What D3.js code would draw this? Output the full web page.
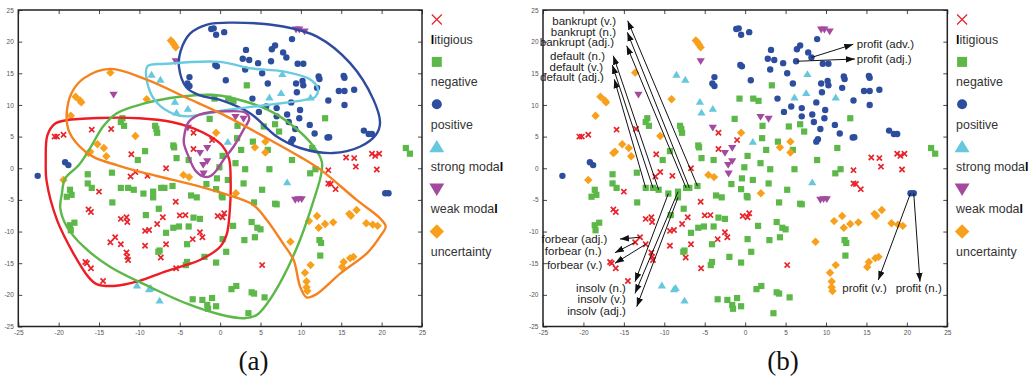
<!DOCTYPE html>
<html>
<head>
<meta charset="utf-8">
<script src="https://cdn.jsdelivr.net/npm/d3@7"></script>
<style>
  body { margin: 0; background: #fff; }
  svg { display: block; font-family: "Liberation Sans", Arial, sans-serif; }
</style>
</head>
<body>
<svg id="chart" width="1035" height="377"></svg>
<script>
// categories and their points (t-SNE style coordinates)
const categories = ['litigious', 'negative', 'positive', 'strong modal', 'weak modal', 'uncertainty'];

const litigious = [
  [-20.5,5.0],[-20.2,5.0],[-19.4,5.3],[-15.9,6.1],[-13.5,6.2],[-11.0,2.2],[-3.3,5.6],[-3.3,3.05],[-1.0,4.45],
  [-6.7,0.0],[15.6,1.7],[16.6,1.6],[18.8,2.3],[19.2,1.95],[19.7,2.3],[16.8,0.25],[13.4,-0.3],[19.4,-0.2],
  [13.4,-2.4],[13.7,-2.5],[14.3,-3.3],[-15.0,-3.7],[-16.3,-6.5],[-16.0,-6.9],[-10.5,-0.6],[-11.1,-1.3],[-9.0,-1.2],
  [-12.3,-8.0],[-11.6,-7.75],[-11.5,-8.5],[-7.8,-8.8],[-7.1,-7.75],[-5.0,-7.45],[-4.3,-7.4],[-5.5,-5.3],[-9.3,-9.9],
  [-8.8,-9.75],[-13.0,-10.9],[-13.6,-11.7],[-12.3,-12.0],[-9.3,-12.25],[-6.7,-12.0],[-3.4,-11.2],[-2.5,-10.1],
  [-2.2,-10.9],[-0.3,-7.55],[0.3,-7.75],[0.5,-7.1],[-11.6,-13.3],[-11.5,-14.0],[-11.4,-14.5],[-7.35,-14.1],
  [-5.45,-15.8],[-16.7,-14.8],[-16.5,-15.0],[-16.0,-15.8],[-14.5,-17.8],[5.2,-15.3]
];

const negative = [
  [-0.7,11.0],[-1.3,7.8],[-12.1,7.9],[-12.3,7.3],[-11.9,6.7],[-8.05,6.7],[-7.9,6.2],[-7.8,5.6],[-5.8,3.6],[-5.7,3.3],
  [-9.3,2.7],[-10.2,1.3],[-5.4,1.6],[-3.9,1.3],[3.3,13.1],[1.0,11.0],[1.65,10.65],[13.0,7.9],[5.4,6.6],[6.8,6.95],
  [7.3,5.8],[2.15,6.7],[2.1,4.75],[4.05,4.2],[2.6,2.9],[5.9,2.9],[0.3,1.95],[1.9,0.8],[8.9,1.3],[11.4,3.2],
  [23.0,3.2],[23.5,2.3],[-16.4,-0.95],[-16.4,-2.4],[-15.9,-3.1],[-13.4,-0.7],[-12.3,-3.1],[-11.4,-3.1],[-10.7,-3.4],
  [-9.5,-4.0],[-8.3,-3.7],[-8.3,-4.6],[-7.3,-3.1],[-6.9,-3.1],[-5.9,-2.8],[-1.7,-2.5],[-0.4,-1.6],[-18.6,-3.4],
  [-18.4,-4.2],[-19.0,-4.5],[-13.35,-5.4],[-7.6,-6.4],[-9.2,-7.4],[-3.6,-4.3],[-2.9,-4.6],[-18.6,-9.0],[-18.5,-9.8],
  [-18.05,-8.6],[-5.8,-9.4],[-5.1,-9.2],[-3.9,-9.2],[-3.3,-7.8],[-2.5,-8.0],[-6.7,-10.2],[-4.1,-12.0],[-7.65,-13.2],
  [-7.5,-13.0],[-1.95,-14.0],[-4.1,-14.8],[-4.25,-15.3],[-0.5,-14.9],[-3.4,-20.7],[-2.2,-20.8],[-1.0,-20.5],
  [-1.6,-21.6],[-1.5,-22.2],[-0.5,-21.8],[3.1,-0.15],[6.1,-0.15],[-0.1,0.15],[0.95,-1.85],[2.9,-2.4],[5.2,-3.4],
  [-0.5,-3.3],[0.2,-4.4],[0.3,-4.6],[4.2,-5.4],[7.0,-5.7],[6.8,-5.6],[11.15,-0.8],[11.8,-0.15],[3.9,-8.5],[4.6,-9.4],
  [5.0,-9.65],[1.6,-9.1],[0.3,-11.2],[3.0,-11.35],[4.3,-10.9],[0.75,-13.2],[12.3,-11.35],[12.5,-11.8],[12.4,-13.8],
  [1.4,-19.1],[2.0,-18.6],[3.9,-19.6],[4.2,-19.8],[5.5,-20.4],[3.5,-22.9]
];

const positive = [
  [-1.1,22.0],[-0.8,22.1],[-0.5,21.1],[0.5,21.5],[8.9,20.4],[3.2,18.7],[6.4,18.8],[6.8,19.4],[7.8,18.3],[8.2,17.5],
  [2.8,17.3],[3.6,17.1],[4.7,16.6],[6.3,16.9],[9.6,16.5],[10.3,16.5],[-0.6,16.3],[-0.4,16.1],[3.1,15.6],[5.2,15.0],
  [0.7,13.9],[5.9,13.4],[9.4,13.4],[10.2,13.8],[10.3,13.1],[12.2,14.5],[12.3,14.1],[12.0,12.7],[9.5,12.0],[15.3,14.6],
  [15.4,14.3],[14.7,12.2],[15.4,12.2],[16.6,12.4],[13.4,10.7],[15.4,10.0],[4.0,11.0],[8.8,10.4],[5.7,9.75],[7.0,9.5],
  [9.9,9.2],[4.8,8.9],[8.3,8.5],[7.0,8.2],[9.8,7.9],[8.5,7.3],[11.1,6.85],[9.3,6.2],[11.7,5.5],[13.3,4.85],[13.5,4.9],
  [9.0,4.6],[8.8,4.2],[17.8,5.95],[18.4,5.4],[18.8,5.4],[-3.8,14.4],[-4.05,13.4],[-3.8,13.0],[-19.2,0.95],[-18.8,0.5],
  [-22.6,-1.2],[20.45,-3.95],[20.85,-3.95]
];

const strongModal = [
  [-8.5,14.8],[-7.4,14.0],[-5.6,10.5],[-5.4,8.8],[-4.0,9.4],[7.7,14.9],[6.1,11.2],[7.55,11.9],[11.2,11.2],[0.95,4.2],
  [8.3,-2.2],[-10.3,-18.5],[-8.8,-19.1],[-8.6,-18.9],[-7.5,-20.9]
];

const weakModal = [
  [-5.5,16.9],[-13.2,11.6],[-4.0,6.4],[-2.5,2.4],[-1.6,3.2],[-2.1,0.5],[-1.6,1.1],[-2.05,-0.85],[9.4,21.9],[9.8,21.9],
  [10.45,21.6],[1.9,8.1],[2.9,7.8],[9.3,-5.0],[9.7,-4.9],[10.1,-4.9]
];

const uncertainty = [
  [-6.1,20.2],[-5.9,19.9],[-5.7,19.5],[-5.5,19.1],[-13.6,15.1],[-17.9,11.3],[-17.35,10.7],[-17.2,10.4],[-18.5,8.3],
  [-9.1,10.9],[-10.5,5.1],[-15.2,3.8],[-14.4,3.2],[-16.1,2.6],[-16.3,2.4],[-14.1,1.9],[-0.5,5.6],[4.3,3.3],[5.6,4.2],
  [5.6,2.5],[-19.4,-1.85],[-4.55,-1.05],[-3.85,-1.4],[1.95,-3.95],[11.0,-8.35],[12.0,-7.55],[12.2,-9.4],[13.0,-8.8],
  [14.0,-8.55],[16.0,-7.2],[16.2,-7.5],[16.9,-6.6],[18.1,-8.7],[18.9,-8.9],[19.5,-9.1],[8.7,-11.6],[15.3,-14.8],
  [15.1,-15.6],[16.1,-14.2],[16.5,-14.0],[11.2,-15.3],[10.5,-16.5],[10.7,-17.9],[10.7,-18.8],[10.8,-19.4]
];

// outlines drawn around each category in panel (a)
const hullLitigious = [
  [-21.6,1],[-21.4,5.2],[-20.5,7.0],[-19,7.6],[-15,7.95],[-10,7.9],[-6,7.3],[-3.3,6.3],[-1.2,5.0],[0.3,3.5],[1.1,1.5],
  [1.3,-2],[1.2,-6.6],[0.8,-10.5],[0,-12.4],[-2.5,-14.5],[-4.5,-15.4],[-7,-16.4],[-10,-17.8],[-13.2,-18.6],
  [-15.3,-18.3],[-16.3,-17.2],[-18.2,-13.4],[-20.2,-8.2],[-21.5,-2]
];
const hullNegative = [
  [-19.6,-4],[-19.2,-1.6],[-17.5,0.5],[-16,3.4],[-14.5,6.6],[-12.8,8.7],[-9.5,10.2],[-5,11.3],[-1,11.6],[1.5,11.1],
  [5.8,9.3],[9.1,6.6],[11.6,3.4],[12.6,1],[12.5,-1],[11.6,-5],[9.9,-11.3],[7.8,-17.2],[5.8,-21.4],[4.5,-23.2],
  [3,-23.7],[0,-23.1],[-4.1,-21.4],[-9.1,-18.5],[-13.6,-15.6],[-16.9,-12.4],[-19,-9.2],[-19.8,-6.3]
];
const hullPositive = [
  [-5.1,16],[-4.9,18.5],[-3.7,21.3],[-1.6,22.7],[1.6,23.0],[7.8,22.4],[12,20.8],[16.1,16.6],[19,10.8],[19.8,7.1],
  [19.3,5.3],[17.3,3.4],[14,2.4],[9.9,3.2],[7,5],[3.7,8.7],[0,10.8],[-2.5,11.5],[-4.2,12.8]
];
const hullStrongModal = [
  [-9,16.1],[-6.6,16.5],[0,16.8],[3.7,15.8],[7.8,15.3],[11.2,14.0],[12.1,12.6],[11.8,11.3],[10.5,10.8],[5.8,10.0],
  [0.8,9.2],[-4.1,8.2],[-5.8,8.6],[-7.8,10.3],[-8.9,12.9]
];
const hullWeakModal = [
  [-4.4,5.5],[-3.9,7.3],[-2.5,8.5],[0.8,9.0],[3.1,8.8],[3.6,7.9],[2.9,6.1],[1.65,3.4],[0.4,1.3],[-0.5,-0.4],
  [-1.3,-1.3],[-2.1,-1.3],[-3.1,-0.3],[-3.9,1.8],[-4.5,4.0]
];
const hullUncertainty = [
  [-13.6,15.7],[-9.1,14.0],[-4.1,11.1],[0,8.7],[5.8,4.75],[9.9,1.8],[12.5,-0.3],[16.9,-5],[19.8,-7.9],[20.5,-9.2],
  [19.8,-10.8],[18.2,-13.4],[14.9,-16.6],[11.8,-20.0],[10.7,-20.4],[9.9,-18.7],[9.1,-14.5],[7.8,-11.9],[5.8,-8.2],
  [4.1,-5.8],[1.65,-4.5],[-2.5,-2.9],[-6,-1.8],[-10.7,-0.3],[-12.8,0.5],[-15.7,1.8],[-17.8,4.0],[-18.8,6.1],
  [-19,8.7],[-18.4,11.9],[-16.9,14.2]
];

// annotated words in panel (b)
const annLabels = ['bankrupt (v.)','bankrupt (n.)','bankrupt (adj.)','default (n.)','default (v.)','default (adj.)',
  'forbear (adj.)','forbear (n.)','forbear (v.)','insolv (n.)','insolv (v.)','insolv (adj.)',
  'profit (adv.)','profit (adj.)','profit (v.)','profit (n.)'];
const annFrom = [[-5.9,-2.8],[-6.9,-3.1],[-7.3,-3.1],[-10.7,-3.4],[-11.4,-3.1],[-12.3,-3.1],
  [-13.0,-10.9],[-13.6,-11.7],[-12.3,-12.0],[-9.5,-4.0],[-8.3,-3.7],[-8.3,-4.6],
  [8.2,17.5],[6.4,16.9],[20.45,-3.95],[20.85,-3.95]];
const annTo = [[-14.53,23.31],[-14.57,21.48],[-14.65,19.36],[-16.31,17.78],[-16.43,16.31],[-16.18,14.05],
  [-15.48,-11.18],[-16.1,-13.34],[-16.1,-15.02],[-13.62,-17.92],[-13.62,-19.76],[-13.41,-21.87],
  [13.37,19.58],[13.58,17.26],[16.47,-17.65],[21.62,-17.92]];
const annText = [[-15.97,23.31],[-15.97,21.57],[-16.22,19.9],[-17.33,17.73],[-17.58,16.04],[-17.46,14.37],
  [-17.05,-11.22],[-17.74,-13.03],[-17.67,-15.33],[-14.74,-18.97],[-14.74,-20.7],[-14.74,-22.55],
  [13.8,19.58],[13.8,17.26],[12.01,-18.97],[18.62,-18.97]];
const annAnchor = ['end','end','end','end','end','end','end','end','end','end','end','end',
  'start','start','start','start'];

const ticks = d3.range(-25, 26, 5);

// ---- styling ----
const series = [litigious, negative, positive, strongModal, weakModal, uncertainty];
const hulls = [hullLitigious, hullNegative, hullPositive, hullStrongModal, hullWeakModal, hullUncertainty];
const shapes = ['x', 'square', 'circle', 'up', 'down', 'diamond'];
const colors = ['#e8232a', '#5cb848', '#2d4d9e', '#66c7dd', '#a44a9e', '#f8a01c'];
const hullColors = ['#ee1d25', '#5cb848', '#2f4b9f', '#6acbe0', '#a54b9e', '#f5821f'];
const markSize = [2.6, 3.1, 3.2, 3.6, 3.6, 3.5];
const legendSize = [5, 5, 5, 6.5, 6.5, 6];

function shapePath(kind, s) {
  switch (kind) {
    case 'x': return `M${-s},${-s}L${s},${s}M${-s},${s}L${s},${-s}`;
    case 'square': return `M${-s},${-s}H${s}V${s}H${-s}Z`;
    case 'circle': return d3.symbol(d3.symbolCircle, Math.PI * s * s)();
    case 'up': return `M0,${-s * 1.05}L${s * 1.15},${s * 0.85}L${-s * 1.15},${s * 0.85}Z`;
    case 'down': return `M0,${s * 1.05}L${s * 1.15},${-s * 0.85}L${-s * 1.15},${-s * 0.85}Z`;
    case 'diamond': return `M0,${-s * 1.2}L${s * 1.2},0L0,${s * 1.2}L${-s * 1.2},0Z`;
  }
}

function styleMark(sel, i, legend) {
  if (shapes[i] === 'x') {
    sel.attr('fill', 'none').attr('stroke', colors[i]).attr('stroke-width', legend ? 1.2 : 1.7);
  } else {
    sel.attr('fill', colors[i]).attr('stroke', 'none');
  }
}

const svg = d3.select('#chart');
svg.append('rect').attr('width', 1035).attr('height', 377).attr('fill', '#fff');

const y = d3.scaleLinear().domain([-25, 25]).range([326.5, 10]);
const xA = d3.scaleLinear().domain([-25, 25]).range([18.3, 422]);
const xB = d3.scaleLinear().domain([-25, 25]).range([543, 947.3]);

svg.append('defs').append('marker')
  .attr('id', 'arrow')
  .attr('viewBox', '0 -5 10 10')
  .attr('refX', 10)
  .attr('refY', 0)
  .attr('markerUnits', 'userSpaceOnUse')
  .attr('markerWidth', 9)
  .attr('markerHeight', 9)
  .attr('orient', 'auto')
  .append('path')
  .attr('d', 'M0,-3.6L10,0L0,3.6Z')
  .attr('fill', '#111');

function drawAxes(g, x) {
  const [x0, x1] = x.range();
  const [y0, y1] = y.range();
  const fmt = d => String(d);

  const bottom = g.append('g').attr('transform', `translate(0,${y0})`)
    .call(d3.axisBottom(x).tickValues(ticks).tickFormat(fmt).tickSizeInner(-4).tickSizeOuter(0).tickPadding(3.5));
  const left = g.append('g').attr('transform', `translate(${x0},0)`)
    .call(d3.axisLeft(y).tickValues(ticks).tickFormat(fmt).tickSizeInner(-4).tickSizeOuter(0).tickPadding(4.5));
  const top = g.append('g').attr('transform', `translate(0,${y1})`)
    .call(d3.axisTop(x).tickValues(ticks).tickFormat('').tickSizeInner(-4).tickSizeOuter(0));
  const right = g.append('g').attr('transform', `translate(${x1},0)`)
    .call(d3.axisRight(y).tickValues(ticks).tickFormat('').tickSizeInner(-4).tickSizeOuter(0));

  [bottom, left, top, right].forEach(a => {
    a.select('.domain').remove();
    a.selectAll('line').attr('stroke', '#333').attr('stroke-width', 0.9);
    a.selectAll('text').attr('fill', '#555').attr('font-size', 6.5)
      .style('font-family', '"Liberation Sans", Arial, sans-serif');
  });

  g.append('rect')
    .attr('x', x0).attr('y', y1)
    .attr('width', x1 - x0).attr('height', y0 - y1)
    .attr('fill', 'none').attr('stroke', '#222').attr('stroke-width', 1.5);
}

function drawPoints(g, x) {
  series.forEach((pts, i) => {
    g.append('g').selectAll('path')
      .data(pts)
      .enter().append('path')
      .attr('d', shapePath(shapes[i], markSize[i]))
      .attr('transform', d => `translate(${x(d[0])},${y(d[1])})`)
      .call(sel => styleMark(sel, i, false));
  });
}

function drawLegend(g, xAxisEnd) {
  const step = 42.4, top = 19.5;
  categories.forEach((name, i) => {
    const cy = top + i * step;
    g.append('path')
      .attr('d', shapePath(shapes[i], legendSize[i]))
      .attr('transform', `translate(${xAxisEnd + 14.8},${cy})`)
      .call(sel => styleMark(sel, i, true));
    const t = g.append('text')
      .attr('x', xAxisEnd + 8.8)
      .attr('y', cy + 24.3)
      .attr('font-size', 12.4)
      .attr('fill', '#333');
    // the letter l renders heavy in the original legend
    name.split(/(l)/).filter(s => s.length).forEach(part => {
      const ts = t.append('tspan').text(part);
      if (part === 'l') ts.attr('font-weight', 700).attr('fill', '#000');
    });
  });
}

// ---- panel (a) ----
const gA = svg.append('g');
drawPoints(gA, xA);
const hullLine = d3.line()
  .x(d => xA(d[0]))
  .y(d => y(d[1]))
  .curve(d3.curveCatmullRomClosed.alpha(0.5));
gA.append('g').selectAll('path')
  .data(hulls)
  .enter().append('path')
  .attr('d', d => hullLine(d))
  .attr('fill', 'none')
  .attr('stroke', (d, i) => hullColors[i])
  .attr('stroke-width', 2.4)
  .attr('stroke-linejoin', 'round');
drawAxes(gA, xA);
drawLegend(gA, xA.range()[1]);

// ---- panel (b) ----
const gB = svg.append('g');
drawPoints(gB, xB);
gB.append('g').selectAll('line')
  .data(annLabels)
  .enter().append('line')
  .attr('x1', (d, i) => xB(annFrom[i][0]))
  .attr('y1', (d, i) => y(annFrom[i][1]))
  .attr('x2', (d, i) => xB(annTo[i][0]))
  .attr('y2', (d, i) => y(annTo[i][1]))
  .attr('stroke', '#111')
  .attr('stroke-width', 1)
  .attr('marker-end', 'url(#arrow)');
gB.append('g').selectAll('text')
  .data(annLabels)
  .enter().append('text')
  .attr('x', (d, i) => xB(annText[i][0]))
  .attr('y', (d, i) => y(annText[i][1]))
  .attr('dy', '0.35em')
  .attr('text-anchor', (d, i) => annAnchor[i])
  .attr('font-size', 11.5)
  .attr('fill', '#222')
  .text(d => d);
drawAxes(gB, xB);
drawLegend(gB, xB.range()[1]);

// ---- captions ----
svg.append('g').selectAll('text')
  .data(['(a)', '(b)'])
  .enter().append('text')
  .attr('x', (d, i) => i === 0 ? 253.5 : 783)
  .attr('y', 370)
  .attr('text-anchor', 'middle')
  .style('font-family', '"Liberation Serif", "DejaVu Serif", serif')
  .attr('font-size', 27)
  .attr('fill', '#111')
  .text(d => d);
</script>
</body>
</html>
